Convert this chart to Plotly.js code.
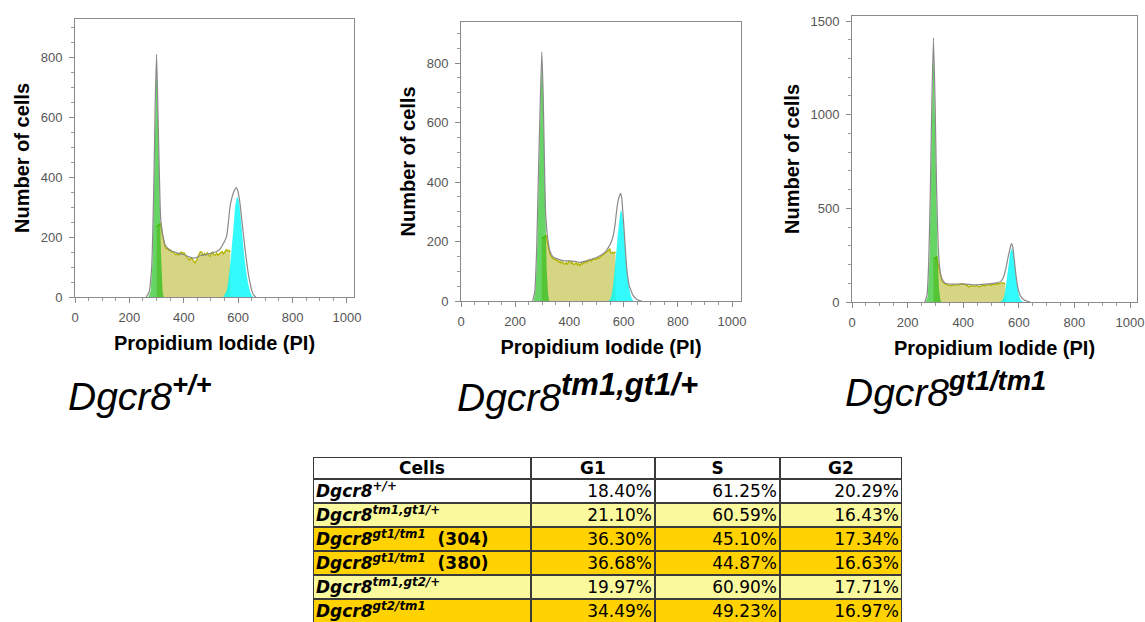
<!DOCTYPE html>
<html>
<head>
<meta charset="utf-8">
<script src="https://cdn.plot.ly/plotly-3.0.1.min.js"></script>
<style>html,body{margin:0;padding:0;background:#fff}#chart{width:1145px;height:622px}</style>
</head>
<body>
<div id="chart"></div>
<script>
// ---------- Panel 1: Dgcr8 +/+ ----------
const p1TotalX = [262, 272, 282, 290, 295, 300, 305, 310, 315, 322, 331, 345, 360, 380, 400, 420, 440, 460, 480, 500, 520, 535, 545, 552, 558, 564, 570, 576, 582, 588, 594, 600, 606, 612, 618, 624, 631, 637, 643, 650, 656, 665];
const p1TotalY = [0, 15, 100, 380, 650, 812, 620, 420, 262, 212, 175, 160, 152, 146, 142, 134, 130, 138, 142, 146, 152, 162, 178, 190, 205, 250, 302, 328, 347, 360, 366, 350, 318, 270, 220, 170, 120, 80, 50, 22, 8, 0];
const p1G1X = [270, 278, 285, 291, 296, 300, 304, 310, 316, 322, 326];
const p1G1Y = [0, 20, 120, 400, 680, 800, 640, 380, 150, 20, 0];
const p1SX = [300, 306, 310, 315, 320, 326, 331, 336, 341, 346, 351, 356, 361, 366, 371, 376, 381, 386, 391, 396, 401, 406, 411, 416, 421, 426, 431, 436, 441, 446, 451, 456, 461, 466, 471, 476, 481, 486, 491, 496, 501, 506, 511, 516, 521, 526, 531, 536, 541, 546, 551, 556, 561, 566, 571];
const p1SY = [236, 240, 243, 246, 215, 185, 168, 160, 163, 155, 158, 150, 152, 146, 141, 145, 140, 147, 150, 146, 148, 140, 133, 128, 124, 130, 127, 118, 113, 122, 130, 142, 152, 150, 138, 146, 140, 148, 141, 135, 146, 150, 140, 141, 147, 138, 145, 150, 152, 144, 150, 158, 154, 157, 150];
const p1G2X = [544, 552, 558, 564, 570, 576, 582, 588, 593, 598, 603, 608, 614, 620, 626, 632, 638, 644, 650, 656];
const p1G2Y = [0, 10, 23, 55, 101, 160, 224, 290, 325, 335, 318, 280, 220, 160, 110, 70, 40, 18, 6, 0];

// ---------- Panel 2: Dgcr8 tm1,gt1/+ ----------
const p2TotalX = [264, 272, 279, 285, 291, 298, 303, 307, 312, 318, 328, 340, 360, 380, 400, 420, 440, 460, 480, 500, 520, 535, 545, 555, 563, 569, 575, 580, 585, 589, 593, 597, 601, 606, 611, 616, 621, 627, 634, 642, 652, 666];
const p2TotalY = [0, 30, 170, 400, 618, 838, 700, 506, 300, 225, 168, 148, 140, 135, 135, 133, 130, 134, 140, 146, 156, 168, 182, 200, 226, 262, 310, 338, 355, 362, 345, 300, 250, 180, 114, 75, 50, 35, 20, 11, 4, 0];
const p2G1X = [268, 274, 280, 286, 291, 295, 298, 302, 306, 311, 316, 321, 325];
const p2G1Y = [0, 30, 140, 380, 620, 780, 830, 730, 520, 280, 110, 25, 0];
const p2SX = [298, 305, 311, 314, 318, 322, 328, 333, 338, 343, 347, 352, 356, 361, 365, 370, 374, 379, 384, 388, 393, 397, 402, 407, 411, 416, 421, 425, 430, 434, 439, 444, 448, 453, 458, 462, 467, 471, 476, 481, 485, 490, 494, 499, 504, 508, 513, 517, 522, 527, 531, 536, 540, 544, 549, 553, 558, 562, 566, 570];
const p2SY = [210, 215, 220, 220, 200, 180, 159, 150, 146, 140, 142, 135, 138, 130, 133, 128, 132, 125, 125, 130, 122, 133, 133, 126, 130, 122, 125, 130, 121, 126, 119, 127, 124, 131, 128, 135, 130, 137, 138, 133, 141, 139, 142, 140, 146, 143, 147, 150, 152, 155, 159, 163, 168, 170, 176, 162, 164, 160, 163, 165];
const p2G2X = [543, 550, 556, 562, 568, 574, 579, 584, 588, 591, 595, 599, 603, 608, 612, 616, 621, 627, 632, 637];
const p2G2Y = [0, 6, 22, 60, 115, 175, 225, 270, 298, 305, 292, 260, 215, 155, 110, 75, 40, 18, 6, 0];

// ---------- Panel 3: Dgcr8 gt1/tm1 ----------
const p3TotalX = [262, 270, 276, 282, 287, 293, 299, 304, 310, 316, 323, 335, 360, 400, 440, 480, 520, 535, 545, 551, 557, 562, 567, 571, 574, 578, 584, 590, 596, 602, 608, 618, 628, 640];
const p3TotalY = [0, 40, 220, 620, 1050, 1410, 1050, 620, 300, 175, 125, 100, 95, 97, 92, 95, 102, 110, 134, 165, 205, 245, 276, 302, 312, 295, 220, 140, 80, 45, 27, 12, 5, 0];
const p3G1X = [265, 272, 278, 283, 288, 293, 298, 303, 308, 313, 318, 322];
const p3G1Y = [0, 30, 200, 550, 1000, 1390, 1000, 560, 230, 70, 10, 0];
const p3SX = [293, 300, 305, 310, 315, 319, 323, 328, 333, 338, 343, 347, 352, 357, 362, 367, 371, 376, 381, 386, 391, 395, 400, 405, 410, 415, 419, 424, 429, 434, 439, 443, 448, 453, 458, 463, 467, 472, 477, 482, 487, 491, 496, 501, 506, 511, 515, 520, 525, 530, 535, 539, 544, 549, 551];
const p3SY = [230, 236, 241, 200, 160, 130, 116, 105, 98, 94, 92, 89, 90, 87, 90, 89, 88, 90, 92, 95, 99, 98, 94, 95, 90, 88, 80, 86, 84, 87, 85, 84, 88, 86, 80, 85, 89, 90, 86, 92, 90, 93, 94, 89, 96, 92, 98, 95, 96, 99, 100, 101, 103, 98, 95];
const p3G2X = [530, 537, 543, 549, 555, 560, 565, 570, 575, 580, 585, 590, 595, 600, 605, 611, 617];
const p3G2Y = [0, 4, 15, 45, 100, 160, 220, 268, 285, 262, 205, 140, 80, 40, 15, 5, 0];

// ---------- Labels ----------
const xTitle = 'Propidium Iodide (PI)';
const yTitle = 'Number of cells';
const genotypeLabels = [
  'Dgcr8<sup><b>+/+</b></sup>',
  'Dgcr8<sup><b><span style="font-size:31px">tm1,gt1/+</span></b></sup>',
  'Dgcr8<sup><b>gt1/tm1</b></sup>'
];

// ---------- Table ----------
const tableHeader = ['Cells', 'G1', 'S', 'G2'];
const cellNames = [
  '<b><i>Dgcr8<sup>+/+</sup></i></b>',
  '<b><i>Dgcr8<sup>tm1,gt1/+</sup></i></b>',
  '<b><i>Dgcr8<sup>gt1/tm1</sup></i>  (304)</b>',
  '<b><i>Dgcr8<sup>gt1/tm1</sup></i>  (380)</b>',
  '<b><i>Dgcr8<sup>tm1,gt2/+</sup></i></b>',
  '<b><i>Dgcr8<sup>gt2/tm1</sup></i></b>'
];
const g1Pct = [18.40, 21.10, 36.30, 36.68, 19.97, 34.49];
const sPct  = [61.25, 60.59, 45.10, 44.87, 60.90, 49.23];
const g2Pct = [20.29, 16.43, 17.34, 16.63, 17.71, 16.97];
const rowShade = [0, 1, 2, 2, 1, 2];   // 0 white, 1 light yellow, 2 gold
const shadeColors = ['#ffffff', '#fbf99d', '#ffd200'];

// ---------- Build histogram panels ----------
const G1_FILL = 'rgba(0,185,0,0.6)';
const S_FILL = 'rgba(172,172,10,0.5)';
const S_LINE = '#b4b400';
const G2_FILL = 'rgba(0,250,250,0.8)';
const TOT_LINE = '#8a8a8a';

function panel(n, tx, ty, g1x, g1y, sx, sy, g2x, g2y) {
  const xa = n === 1 ? 'x' : 'x' + n;
  const ya = n === 1 ? 'y' : 'y' + n;
  const sFillX = [sx[0]].concat(sx, [sx[sx.length - 1]]);
  const sFillY = [0].concat(sy, [0]);
  return [
    {x: sFillX, y: sFillY, xaxis: xa, yaxis: ya, type: 'scatter', mode: 'lines', fill: 'tozeroy',
     fillcolor: S_FILL, line: {width: 0, color: S_FILL}, hoverinfo: 'skip'},
    {x: sx, y: sy, xaxis: xa, yaxis: ya, type: 'scatter', mode: 'lines',
     line: {width: 1.3, color: S_LINE}, hoverinfo: 'skip'},
    {x: g2x, y: g2y, xaxis: xa, yaxis: ya, type: 'scatter', mode: 'lines', fill: 'tozeroy',
     fillcolor: G2_FILL, line: {width: 0, color: G2_FILL, shape: 'spline', smoothing: 0.6}, hoverinfo: 'skip'},
    {x: g1x, y: g1y, xaxis: xa, yaxis: ya, type: 'scatter', mode: 'lines', fill: 'tozeroy',
     fillcolor: G1_FILL, line: {width: 0, color: G1_FILL}, hoverinfo: 'skip'},
    {x: tx, y: ty, xaxis: xa, yaxis: ya, type: 'scatter', mode: 'lines',
     line: {width: 1.2, color: TOT_LINE, shape: 'spline', smoothing: 0.5}, hoverinfo: 'skip'}
  ];
}

const traces = [].concat(
  panel(1, p1TotalX, p1TotalY, p1G1X, p1G1Y, p1SX, p1SY, p1G2X, p1G2Y),
  panel(2, p2TotalX, p2TotalY, p2G1X, p2G1Y, p2SX, p2SY, p2G2X, p2G2Y),
  panel(3, p3TotalX, p3TotalY, p3G1X, p3G1Y, p3SX, p3SY, p3G2X, p3G2Y)
);

// ---------- Build table (heatmap cells on a pixel-unit axis pair) ----------
const colEdges = [0, 218, 342, 467, 589];
const rowEdges = [0, 22, 46, 70, 94, 118, 142, 166];
const BORDER = '#3a3a3a';

// dark underlay (shows through the cell gaps as grid lines)
traces.push({type: 'heatmap', xaxis: 'x4', yaxis: 'y4',
  x: [colEdges[0], colEdges[colEdges.length - 1]], y: [rowEdges[0], rowEdges[rowEdges.length - 1]],
  z: [[1]], colorscale: [[0, BORDER], [1, BORDER]], showscale: false, hoverinfo: 'skip'});

const zCells = [[0, 0, 0, 0]].concat(rowShade.map(s => [s, s, s, s]));
traces.push({type: 'heatmap', xaxis: 'x4', yaxis: 'y4', x: colEdges, y: rowEdges, z: zCells,
  zmin: 0, zmax: 2, xgap: 2, ygap: 2, showscale: false, hoverinfo: 'skip',
  colorscale: [[0, shadeColors[0]], [0.5, shadeColors[1]], [1, shadeColors[2]]]});

const rowCenter = i => (rowEdges[i] + rowEdges[i + 1]) / 2 + 1.5;
const tableFont = {family: 'DejaVu Sans, Verdana, sans-serif', size: 17, color: '#000'};

// header text
traces.push({type: 'scatter', mode: 'text', xaxis: 'x4', yaxis: 'y4', hoverinfo: 'skip',
  x: tableHeader.map((t, c) => (colEdges[c] + colEdges[c + 1]) / 2),
  y: tableHeader.map(() => rowCenter(0)),
  text: tableHeader.map(t => '<b>' + t + '</b>'),
  textposition: 'middle center', textfont: tableFont});
// first column (names)
traces.push({type: 'scatter', mode: 'text', xaxis: 'x4', yaxis: 'y4', hoverinfo: 'skip',
  x: cellNames.map(() => colEdges[0] + 3),
  y: cellNames.map((t, i) => rowCenter(i + 1)),
  text: cellNames, textposition: 'middle right', textfont: tableFont});
// numeric columns
[g1Pct, sPct, g2Pct].forEach((vals, k) => {
  traces.push({type: 'scatter', mode: 'text', xaxis: 'x4', yaxis: 'y4', hoverinfo: 'skip',
    x: vals.map(() => colEdges[k + 2] - 3),
    y: vals.map((v, i) => rowCenter(i + 1)),
    text: vals.map(v => v.toFixed(2) + '%'),
    textposition: 'middle left', textfont: tableFont});
});

// ---------- Layout ----------
const tickFont = {family: 'Liberation Sans, Arial, sans-serif', size: 13, color: '#555'};
const titleFont = {family: 'Liberation Sans, Arial, sans-serif', size: 20, color: '#000', weight: 'bold'};

function xAxis(domain, range) {
  return {domain: domain, range: range, showgrid: false, zeroline: false,
    showline: true, mirror: true, linecolor: '#8a8a8a', linewidth: 1,
    ticks: 'outside', ticklen: 5, tickcolor: '#8a8a8a', dtick: 200, tick0: 0,
    minor: {dtick: 50, ticks: 'outside', ticklen: 3, tickcolor: '#9a9a9a'},
    tickfont: tickFont, ticklabelstandoff: 3,
    title: {text: xTitle, font: titleFont, standoff: 12}};
}
function yAxis(domain, range, dtick, minorDtick) {
  return {domain: domain, range: range, showgrid: false, zeroline: false,
    showline: true, mirror: true, linecolor: '#8a8a8a', linewidth: 1,
    ticks: 'outside', ticklen: 5, tickcolor: '#8a8a8a', dtick: dtick, tick0: 0,
    minor: {dtick: minorDtick, ticks: 'outside', ticklen: 3, tickcolor: '#9a9a9a'},
    tickfont: tickFont, ticklabelstandoff: 4,
    title: {text: yTitle, font: titleFont, standoff: 5}};
}

const d1x = [75/1145, 354/1145], d1y = [1 - 297/622, 1 - 19/622];
const d2x = [461/1145, 741/1145], d2y = [1 - 301/622, 1 - 22/622];
const d3x = [852/1145, 1137/1145], d3y = [1 - 302/622, 1 - 16/622];

const layout = {
  width: 1145, height: 622,
  margin: {l: 0, r: 0, t: 0, b: 0},
  paper_bgcolor: '#ffffff', plot_bgcolor: '#ffffff',
  showlegend: false,
  xaxis:  Object.assign(xAxis(d1x, [0, 1026]), {anchor: 'y'}),
  yaxis:  Object.assign(yAxis(d1y, [0, 930], 200, 50), {anchor: 'x'}),
  xaxis2: Object.assign(xAxis(d2x, [0, 1033]), {anchor: 'y2'}),
  yaxis2: Object.assign(yAxis(d2y, [0, 938], 200, 50), {anchor: 'x2'}),
  xaxis3: Object.assign(xAxis(d3x, [0, 1025]), {anchor: 'y3'}),
  yaxis3: Object.assign(yAxis(d3y, [0, 1527], 500, 100), {anchor: 'x3'}),
  xaxis4: {domain: [313/1145, 902/1145], range: [colEdges[0], colEdges[colEdges.length - 1]], anchor: 'y4',
    showgrid: false, zeroline: false, showticklabels: false, ticks: '', showline: false},
  yaxis4: {domain: [0, 165/622], range: [165, 0], anchor: 'x4',
    showgrid: false, zeroline: false, showticklabels: false, ticks: '', showline: false},
  annotations: [
    {text: genotypeLabels[0], x: 66/1145, y: 1 - 393/622},
    {text: genotypeLabels[1], x: 455/1145, y: 1 - 393/622},
    {text: genotypeLabels[2], x: 843/1145, y: 1 - 389/622}
  ].map(a => Object.assign(a, {xref: 'paper', yref: 'paper', xanchor: 'left', yanchor: 'middle',
    showarrow: false, font: {family: 'Liberation Sans, Arial, sans-serif', size: 39, color: '#000', style: 'italic'}}))
};

Plotly.newPlot('chart', traces, layout, {staticPlot: true, displayModeBar: false});
</script>
</body>
</html>
